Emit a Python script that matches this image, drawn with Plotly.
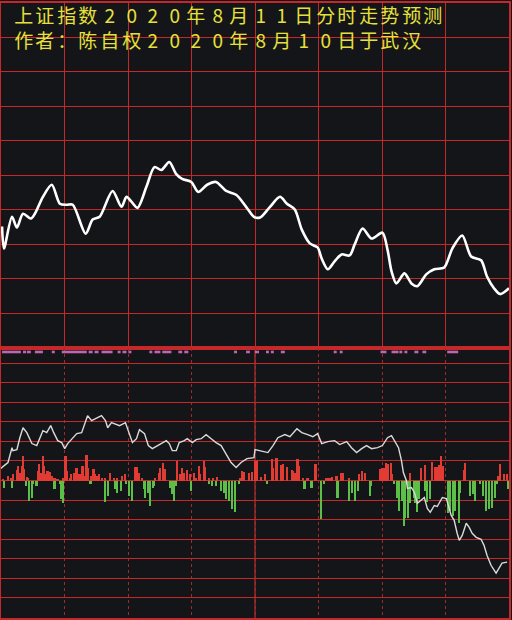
import plotly.graph_objects as go
from plotly.subplots import make_subplots

# time axis: minutes of trading since 9:30 (lunch break removed, 0-240)
# upper panel: predicted intraday path (relative level, one grid row = 1)
pred_minute = [0.5, 1.4, 5.2, 7.5, 10.4, 14.1, 16.0, 19.8, 24.0, 27.8, 31.1, 33.9, 40.0, 43.3, 46.6,
               52.7, 56.9, 59.3, 61.6, 64.5, 68.7, 72.5, 75.8, 79.5, 82.8, 85.6, 89.9, 93.2, 97.4,
               101.6, 106.4, 111.1, 115.8, 119.5, 122.4, 127.1, 131.8, 135.1, 138.8, 142.1, 145.9,
               149.6, 151.5, 154.4, 157.6, 160.9, 164.7, 167.1, 170.8, 175.1, 180.2, 182.6, 184.5,
               186.8, 190.6, 193.9, 196.7, 200.9, 204.7, 209.4, 213.2, 217.9, 222.1, 226.8, 229.6,
               232.9, 235.8, 240]
pred_level = [3.52, 2.88, 3.80, 3.49, 3.89, 3.75, 3.89, 4.38, 4.73, 4.18, 4.15, 4.15, 3.31, 3.72, 3.80,
              4.55, 4.09, 4.38, 4.24, 4.06, 4.67, 5.24, 5.16, 5.39, 5.04, 4.90, 4.81, 4.52, 4.73,
              4.81, 4.55, 4.44, 4.09, 3.80, 3.78, 4.09, 4.38, 4.18, 4.01, 3.43, 3.03,
              2.91, 2.59, 2.28, 2.51, 2.71, 2.68, 3.00, 3.46, 3.17, 3.34, 2.85, 2.22,
              1.87, 2.16, 1.87, 1.79, 2.13, 2.28, 2.33, 2.88, 3.26, 2.65, 2.54, 2.07,
              1.73, 1.56, 1.73]

# lower panel: thin index line
actual_minute = [0, 0.9, 3.3, 5.2, 5.6, 7.5, 8.9, 10.4, 12.2, 14.6,
                 16.9, 18.4, 19.8, 21.6, 23.5, 24.9, 26.8, 28.7, 30.1, 31.5,
                 33.4, 35.8, 38.1, 39.5, 40.9, 42.8, 45.2, 47.5, 49.4, 50.4,
                 52.2, 53.6, 56.0, 58.8, 60.7, 62.1, 64.0, 65.4, 67.8, 69.6,
                 71.5, 73.9, 76.2, 78.1, 79.5, 80.9, 82.8, 84.2, 86.6, 88.0,
                 90.4, 92.2, 94.6, 96.9, 99.3, 101.6, 104.0, 106.4, 108.7, 111.1,
                 113.4, 116.2, 119.5, 120.0, 122.4, 126.1, 128.5, 130.8, 134.1, 136.5,
                 139.8, 142.1, 144.9, 147.3, 149.6, 151.5, 154.4, 157.6, 160.0, 163.3,
                 165.6, 168.0, 170.4, 172.7, 175.1, 177.9, 180.2, 182.6, 184.5, 185.9,
                 187.8, 189.2, 190.1, 191.5, 192.0, 193.9, 195.3, 196.7, 198.6, 200.0,
                 201.4, 202.8, 204.7, 206.1, 208.5, 210.4, 212.7, 214.1, 215.5, 216.5,
                 217.9, 219.8, 221.2, 222.6, 224.5, 226.8, 228.2, 229.6, 231.5, 233.9,
                 235.3, 236.7, 239.1]
actual_value = [0.61, 0.71, 0.92, 1.68, 1.53, 1.58, 2.19, 2.70, 2.45, 1.89,
                1.79, 2.14, 2.55, 2.45, 2.81, 2.45, 2.04, 1.94, 1.63, 1.89,
                2.14, 2.40, 2.45, 2.91, 3.32, 3.06, 3.21, 3.32, 3.06, 2.70,
                2.96, 2.91, 2.81, 2.96, 2.40, 1.94, 2.14, 2.60, 2.40, 1.79,
                1.63, 1.79, 1.94, 2.04, 1.89, 1.53, 1.53, 1.94, 2.04, 2.14,
                1.94, 2.09, 2.14, 2.35, 2.14, 1.94, 1.79, 1.38, 0.92, 0.66,
                0.92, 1.12, 1.17, 1.58, 1.53, 1.43, 1.79, 2.19, 2.35, 2.24,
                2.65, 2.45, 2.35, 2.24, 2.40, 1.89, 1.99, 2.04, 1.84, 1.99,
                1.68, 1.43, 1.63, 1.79, 1.63, 1.68, 1.79, 2.19, 2.30, 2.04,
                1.68, 1.02, 0.41, 0.00, -0.41, -0.36, -0.61, -1.17, -1.02, -0.87,
                -1.43, -1.63, -1.28, -1.33, -0.87, -0.92, -1.79, -2.04, -2.70, -3.06,
                -2.81, -2.19, -2.40, -2.70, -2.91, -3.01, -3.32, -3.83, -4.34, -4.74,
                -4.49, -4.23, -4.18]

# lower panel: buy / sell strength bars
red_minute = [0.9, 3.3, 4.7, 5.6, 7.5, 8.0, 8.9, 9.9, 10.4, 10.8,
              12.2, 12.7, 17.4, 17.9, 18.8, 19.8, 20.2, 21.2, 22.1, 23.1,
              24.0, 25.4, 26.8, 29.2, 30.6, 31.1, 32.5, 33.4, 34.4, 35.8,
              36.2, 37.2, 38.6, 39.5, 40.5, 41.4, 42.8, 43.8, 44.7, 45.6,
              46.6, 48.0, 49.4, 51.8, 53.6, 55.1, 57.4, 58.8, 63.5, 64.5,
              65.4, 66.8, 72.9, 74.8, 75.3, 76.7, 77.6, 83.3, 84.7, 85.6,
              86.6, 88.0, 89.4, 91.3, 92.2, 93.6, 94.1, 96.0, 96.5, 98.4,
              100.2, 102.1, 112.9, 113.9, 114.8, 117.2, 118.6, 120.0, 121.0, 122.8,
              124.7, 128.0, 128.5, 129.9, 130.3, 132.2, 133.2, 135.1, 137.4, 137.9,
              138.8, 140.2, 140.7, 142.6, 144.9, 148.7, 153.9, 155.3, 156.7, 158.6,
              160.9, 161.9, 164.7, 169.4, 170.8, 172.2, 179.3, 180.2, 181.2, 182.1,
              183.1, 184.5, 184.9, 193.4, 198.6, 200.5, 203.8, 205.2, 206.1, 207.1,
              208.0, 209.0, 218.8, 219.3, 234.8, 235.8, 237.6, 239.1]
red_value = [0.10, 0.26, 0.15, 0.36, 0.56, 0.77, 0.41, 0.77, 1.28, 0.61,
             0.20, 0.15, 0.51, 0.87, 0.41, 1.28, 0.77, 0.36, 0.51, 0.46,
             0.26, 0.15, 0.10, 0.15, 1.28, 0.51, 0.15, 0.36, 0.41, 0.66,
             0.51, 0.36, 0.77, 0.26, 1.33, 0.66, 0.26, 0.61, 0.36, 0.26,
             0.36, 0.15, 0.15, 0.41, 0.15, 0.15, 0.26, 0.36, 0.71, 0.71,
             0.41, 0.15, 0.15, 0.41, 0.66, 0.92, 0.61, 1.02, 0.36, 0.66,
             0.41, 0.56, 0.36, 0.41, 0.15, 0.77, 0.36, 1.02, 0.71, 0.15,
             0.15, 0.20, 0.15, 0.51, 0.46, 0.41, 0.46, 1.02, 1.02, 0.20,
             0.36, 1.12, 0.66, 1.17, 1.17, 0.82, 0.87, 0.71, 0.56, 0.51,
             0.41, 1.12, 0.77, 0.15, 0.15, 0.87, 0.15, 0.15, 0.20, 0.26,
             0.41, 0.41, 0.15, 0.36, 0.51, 0.41, 0.61, 0.66, 0.66, 0.92,
             0.87, 0.92, 0.36, 0.41, 0.66, 0.82, 0.97, 0.71, 0.71, 0.82,
             1.28, 0.77, 0.56, 0.92, 0.26, 0.87, 0.36, 0.36]
green_minute = [1.4, 5.2, 11.8, 13.2, 14.6, 15.1, 16.9, 25.4, 27.8, 28.7,
                29.6, 42.4, 49.4, 50.8, 54.1, 55.1, 56.9, 59.3, 60.7, 62.1,
                67.8, 68.2, 69.6, 70.6, 72.0, 72.5, 80.0, 80.9, 81.9, 82.8,
                89.9, 98.4, 99.8, 101.6, 104.0, 105.4, 106.4, 107.8, 109.2, 110.6,
                112.5, 125.6, 143.5, 146.8, 151.1, 151.5, 152.9, 159.1, 159.5, 164.7,
                166.1, 167.5, 168.9, 174.6, 175.1, 185.9, 187.3, 188.2, 189.6, 190.6,
                191.1, 192.5, 193.4, 195.3, 195.8, 196.7, 197.6, 200.5, 201.4, 202.8,
                211.3, 212.3, 213.7, 214.6, 216.5, 216.9, 221.6, 223.1, 224.0, 226.4,
                227.8, 229.2, 230.6, 232.0, 233.4, 234.4, 239.5]
green_value = [-0.36, -0.36, -0.26, -1.02, -0.87, -0.15, -0.26, -0.41, -0.15, -0.92,
               -1.17, -0.15, -1.12, -0.77, -0.41, -0.61, -0.51, -0.15, -0.77, -1.02,
               -0.41, -0.87, -0.61, -1.28, -0.36, -0.26, -0.36, -0.66, -1.02, -0.26,
               -0.51, -0.15, -0.26, -0.26, -0.51, -0.61, -0.92, -1.02, -1.43, -1.63,
               -0.15, -0.15, -0.41, -0.36, -1.94, -0.77, -0.15, -0.87, -0.51, -1.02,
               -0.61, -1.02, -0.51, -0.77, -0.26, -0.15, -0.87, -1.53, -1.02, -2.30,
               -1.89, -1.89, -1.17, -0.87, -1.17, -1.63, -0.92, -0.51, -1.12, -0.92,
               -1.68, -1.53, -1.79, -1.53, -2.19, -0.61, -0.77, -0.66, -1.02, -0.15,
               -0.77, -1.53, -1.43, -1.38, -0.87, -0.15, -0.41]

# magenta signal strip at top of the lower panel (start / end minute)
signal_start = [0.5, 10.4, 12.2, 16.0, 24.0, 28.7, 41.4, 44.2, 47.5, 55.1, 57.4, 60.2, 70.1, 72.5,
                76.2, 83.8, 86.6, 110.1, 115.8, 120.0, 125.2, 127.5, 132.2, 157.2, 160.0, 179.3,
                184.5, 188.2, 190.6, 195.3, 199.1, 210.8]
signal_end = [9.4, 11.8, 14.1, 19.8, 25.4, 40.5, 43.3, 46.1, 52.7, 56.5, 59.3, 61.6, 71.5, 75.3,
              80.5, 85.6, 88.5, 111.5, 117.6, 121.9, 126.6, 128.9, 134.1, 158.6, 161.4, 182.1,
              187.8, 189.6, 192.0, 197.2, 200.9, 216.0]
signal_level = 6.58

title_lines = ["上证指数2020年8月11日分时走势预测", "作者：陈自权2020年8月10日于武汉"]

BG = "#141518"
GRID = "#c42828"
W, H = 512, 620
ML, MR, MT, MB = 1, 2, 1, 2
PW, PH = W - ML - MR, H - MT - MB
SPLIT = (H - MB - 347) / PH  # top of the lower panel, paper units

fig = make_subplots(rows=2, cols=1, vertical_spacing=0)

fig.add_trace(go.Scatter(x=pred_minute, y=pred_level, mode="lines",
                         line=dict(color="#ffffff", width=2.6, shape="spline", smoothing=0.8)),
              row=1, col=1)

fig.add_trace(go.Bar(x=red_minute, y=red_value, width=0.75, marker_color="#e13b34",
                     marker_line_width=0), row=2, col=1)
fig.add_trace(go.Bar(x=green_minute, y=green_value, width=0.75, marker_color="#5cc048",
                     marker_line_width=0), row=2, col=1)

sig_x, sig_y = [], []
for a, b in zip(signal_start, signal_end):
    sig_x += [a, b, None]
    sig_y += [signal_level, signal_level, None]
fig.add_trace(go.Scatter(x=sig_x, y=sig_y, mode="lines",
                         line=dict(color="#c264b4", width=2.6)), row=2, col=1)

fig.add_trace(go.Scatter(x=actual_minute, y=actual_value, mode="lines",
                         line=dict(color="#dadada", width=1.4)), row=2, col=1)

fig.add_vline(x=120, line=dict(color="#9a2a2a", width=1.5), row=2, col=1, layer="below")

axis_common = dict(showticklabels=False, ticks="", zeroline=False, showline=True,
                   mirror=True, linecolor=GRID, linewidth=1.5, gridcolor=GRID, gridwidth=1)
fig.update_xaxes(range=[0, 240], tick0=0, dtick=30, **axis_common)
fig.update_xaxes(griddash="dot", gridcolor="#a02a2a", row=2, col=1)
fig.update_yaxes(**axis_common)
fig.update_yaxes(range=[0, 10], tick0=0, dtick=1, domain=[SPLIT, 1], row=1, col=1)
fig.update_yaxes(range=[-7.04, 6.79], tick0=0, dtick=1, domain=[0, SPLIT], row=2, col=1)

# title text, one glyph per fixed-width cell like the original terminal font
cell, x0 = 21.6, 13
for text, cy in zip(title_lines, [12.5, 37.5]):
    for i, ch in enumerate(text):
        cx = x0 + cell * (i + 0.5)
        fig.add_annotation(x=(cx - ML) / PW, y=(H - MB - cy) / PH, xref="paper", yref="paper",
                           text=ch, showarrow=False, xanchor="center", yanchor="middle",
                           width=cell - 2, height=23, borderpad=0,
                           font=dict(family="Noto Sans CJK SC", size=19, color="#e6e03c"))

fig.update_layout(width=W, height=H, margin=dict(l=ML, r=MR, t=MT, b=MB),
                  paper_bgcolor=BG, plot_bgcolor=BG, showlegend=False,
                  barmode="overlay", bargap=0)

fig.write_html("out.html", config={"displayModeBar": False},
               post_script="document.body.style.margin='0';")
